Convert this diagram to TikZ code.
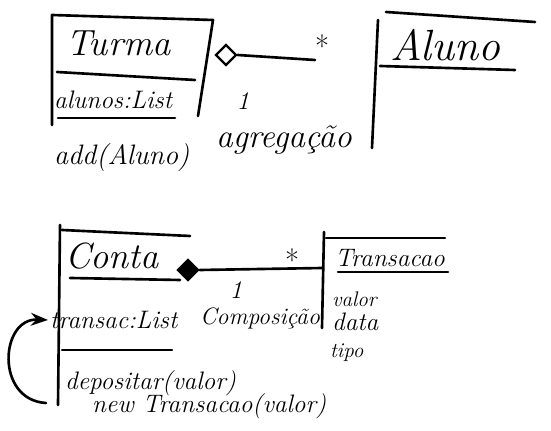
\documentclass[tikz,border=0pt]{standalone}
\usepackage{tikz}
\usetikzlibrary{arrows.meta,positioning,shapes.geometric}

\begin{document}
\begin{tikzpicture}[x=0.02cm,y=-0.02cm,>=Stealth,every node/.style={font=\itshape},stroke/.style={line width=1.5pt,line cap=round,line join=round},txt/.style={inner sep=1pt,anchor=west},agg/.style={draw,diamond,line width=1.3pt,minimum size=0.42cm,inner sep=0pt}]
\useasboundingbox (0,0) rectangle (551,431);
% Turma
\draw[stroke] (52,125)--(52,15)--(213,20)--(198,116);
\node[txt,font=\huge\itshape] (turma) at (64,43) {Turma};
\draw[stroke] (57,72)--(195,80);
\node[txt,font=\Large\itshape] (alunos) at (52,100) {alunos:List};
\draw[stroke] (58,118)--(175,118);
\node[txt,font=\fontsize{16}{19}\selectfont\itshape] (add) at (52,157) {add(Aluno)};
% Aluno
\draw[stroke] (378,20)--(372,148);
\draw[stroke] (386,12)--(535,22);
\node[txt,font=\Huge\itshape] (aluno) at (388,45) {Aluno};
\draw[stroke] (380,66)--(515,70);
% agregacao
\node[agg] (diam) at (226,55) {};
\coordinate (agend) at (315,60);
\draw[stroke] (diam.east)--(agend);
\node[font=\LARGE] (many) at (322,46) {*};
\node[font=\Large\itshape] (one) at (243,101) {1};
\node[txt,font=\fontsize{19}{22}\selectfont\itshape] (agreg) at (214,140) {agregação};
% Conta
\draw[stroke] (60,225)--(58,405);
\draw[stroke] (62,230)--(190,236);
\node[txt,font=\huge\itshape] (conta) at (63,256) {Conta};
\draw[stroke] (70,278)--(180,280);
\node[txt,font=\Large\itshape] (transac) at (48,320) {transac:List};
\draw[stroke] (62,350)--(172,350);
\node[txt,font=\Large\itshape] (depos) at (63,383) {depositar(valor)};
\node[txt,font=\Large\itshape] (novo) at (90,406) {new Transacao(valor)};
% Transacao
\draw[stroke] (324,232)--(322,328);
\draw[stroke] (326,238)--(445,238);
\node[txt,font=\Large\itshape] (transacao) at (333,258) {Transacao};
\draw[stroke] (338,272)--(448,272);
\node[txt,font=\large\itshape] (valor) at (330,299) {valor};
\node[txt,font=\Large\itshape] (data) at (330,322) {data};
\node[txt,font=\large\itshape] (tipo) at (328,353) {tipo};
% composicao
\node[agg,fill=black] (fdiam) at (188,270) {};
\coordinate (trleft) at (323,268);
\draw[stroke] (fdiam.east)--(trleft);
\node[font=\LARGE] (many2) at (292,260) {*};
\node[font=\Large\itshape] (one2) at (236,290) {1};
\node[txt,font=\fontsize{13.5}{16}\selectfont\itshape] (compos) at (198,318) {Composição};
% loop
\coordinate (lstart) at (46,403);
\draw[stroke,->] (lstart) .. controls (-5,400) and (0,318) .. (transac.west);
\end{tikzpicture}
\end{document}
